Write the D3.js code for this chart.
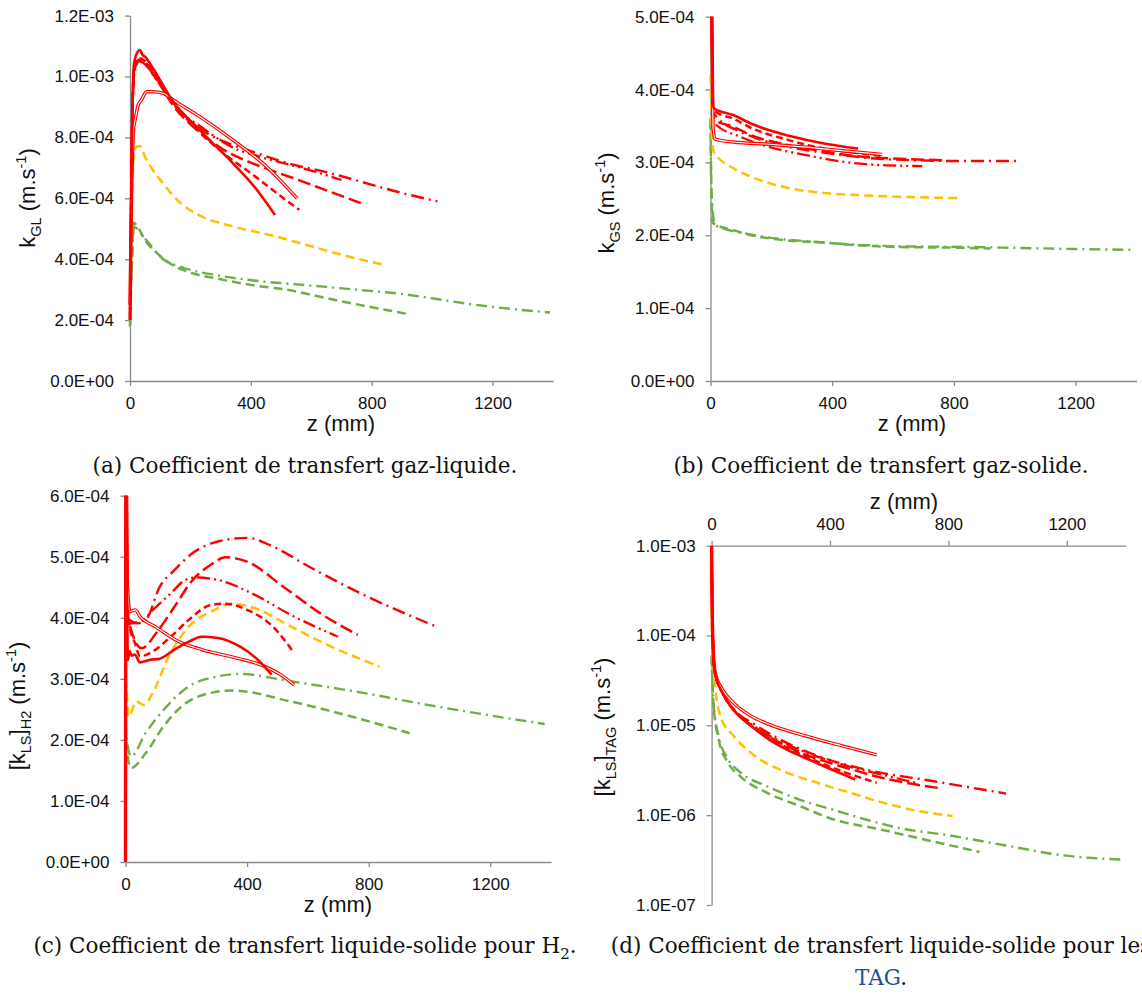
<!DOCTYPE html>
<html><head><meta charset="utf-8">
<script src="https://cdn.jsdelivr.net/npm/d3@7"></script>
<style>
body{margin:0;background:#fff;}
svg{display:block;}
</style></head><body>
<svg id="chart" width="1142" height="994"></svg>
<script>
// ---------- tick values ----------
const zTicks = [0, 400, 800, 1200];
const yTicksA = [0, 2e-4, 4e-4, 6e-4, 8e-4, 1e-3, 1.2e-3];
const yTicksB = [0, 1e-4, 2e-4, 3e-4, 4e-4, 5e-4];
const yTicksC = [0, 1e-4, 2e-4, 3e-4, 4e-4, 5e-4, 6e-4];
const yTicksD = [1e-7, 1e-6, 1e-5, 1e-4, 1e-3];

// ---------- (a) k_GL : [z (mm), value (m/s)] ----------
const a_solid = [[0,2.2e-4],[3,4.8e-4],[7,8.1e-4],[12,1.03e-3],[20,1.07e-3],[33,1.087e-3],[42,1.07e-3],[50,1.065e-3],[66,1.043e-3],[143,9.17e-4],[231,8.24e-4],[341,7.15e-4],[410,6.4e-4],[480,5.45e-4]];
const a_double = [[0,2.5e-4],[5,6e-4],[12,8.3e-4],[17,8.57e-4],[27,9.06e-4],[38,9.23e-4],[55,9.5e-4],[76,9.5e-4],[110,9.45e-4],[143,9.23e-4],[231,8.68e-4],[341,7.91e-4],[452,7.04e-4],[553,6.0e-4]];
const a_shortdash = [[0,2e-4],[4,6e-4],[8,9.2e-4],[17,1.045e-3],[32,1.06e-3],[50,1.05e-3],[74,1.02e-3],[146,9.1e-4],[230,8.17e-4],[314,7.45e-4],[410,6.75e-4],[482,6.2e-4],[560,5.62e-4]];
const a_longdash = [[0,2e-4],[4,6e-4],[8,9e-4],[17,1.04e-3],[32,1.055e-3],[50,1.045e-3],[74,1.015e-3],[146,9.0e-4],[230,8.17e-4],[314,7.57e-4],[410,7.13e-4],[530,6.7e-4],[650,6.26e-4],[764,5.84e-4]];
const a_dashdotdot = [[0,2e-4],[4,6e-4],[8,9e-4],[17,1.03e-3],[32,1.05e-3],[50,1.04e-3],[74,1.01e-3],[146,9.05e-4],[242,8.3e-4],[338,7.68e-4],[434,7.35e-4],[530,7.1e-4],[620,6.85e-4],[700,6.6e-4]];
const a_dashdot = [[0,2e-4],[4,6e-4],[8,9e-4],[17,1.03e-3],[32,1.05e-3],[50,1.045e-3],[74,1.01e-3],[146,9.1e-4],[230,8.3e-4],[314,7.85e-4],[410,7.52e-4],[530,7.13e-4],[650,6.86e-4],[770,6.53e-4],[890,6.2e-4],[1017,5.9e-4]];
const a_yellow = [[0,3.0e-4],[5,5.5e-4],[12,7.3e-4],[20,7.68e-4],[32,7.72e-4],[50,7.35e-4],[110,6.48e-4],[170,5.82e-4],[230,5.44e-4],[350,5.05e-4],[470,4.78e-4],[590,4.45e-4],[710,4.12e-4],[835,3.83e-4]];
const a_greendash = [[0,1.8e-4],[5,3.5e-4],[12,5.2e-4],[26,5.05e-4],[50,4.62e-4],[86,4.23e-4],[134,3.85e-4],[194,3.58e-4],[290,3.36e-4],[410,3.14e-4],[530,2.98e-4],[650,2.72e-4],[770,2.48e-4],[920,2.2e-4]];
const a_greendashdot = [[0,1.8e-4],[5,3.5e-4],[14,5.05e-4],[50,4.67e-4],[110,4.0e-4],[170,3.74e-4],[290,3.47e-4],[410,3.3e-4],[530,3.19e-4],[650,3.09e-4],[770,2.98e-4],[890,2.87e-4],[1010,2.7e-4],[1130,2.52e-4],[1250,2.38e-4],[1390,2.25e-4]];

// ---------- (b) k_GS ----------
const b_solid = [[0,5.5e-4],[4,5.2e-4],[8,3.8e-4],[12,3.74e-4],[75,3.65e-4],[135,3.53e-4],[194,3.44e-4],[254,3.37e-4],[373,3.26e-4],[485,3.19e-4]];
const b_double = [[0,5.5e-4],[4,5.2e-4],[8,3.5e-4],[15,3.32e-4],[75,3.28e-4],[194,3.25e-4],[314,3.21e-4],[433,3.16e-4],[564,3.11e-4]];
const b_shortdash = [[0,5.5e-4],[4,5e-4],[8,3.75e-4],[15,3.7e-4],[75,3.6e-4],[135,3.47e-4],[254,3.31e-4],[373,3.19e-4],[480,3.13e-4],[564,3.09e-4]];
const b_longdash = [[0,5.5e-4],[4,5e-4],[8,3.65e-4],[15,3.58e-4],[75,3.49e-4],[135,3.37e-4],[254,3.24e-4],[373,3.15e-4],[493,3.08e-4],[620,3.05e-4],[770,3.03e-4]];
const b_dashdotdot = [[0,5.5e-4],[4,5e-4],[8,3.6e-4],[15,3.53e-4],[99,3.35e-4],[194,3.21e-4],[314,3.1e-4],[433,3.01e-4],[576,2.96e-4],[696,2.95e-4]];
const b_dashdot = [[0,5.5e-4],[4,5e-4],[8,3.7e-4],[15,3.65e-4],[111,3.4e-4],[206,3.26e-4],[314,3.17e-4],[433,3.1e-4],[552,3.05e-4],[672,3.03e-4],[791,3.02e-4],[1012,3.02e-4]];
const b_yellow = [[0,4.2e-4],[4,3.4e-4],[10,3.15e-4],[75,2.92e-4],[135,2.8e-4],[254,2.65e-4],[373,2.58e-4],[493,2.55e-4],[612,2.53e-4],[815,2.51e-4]];
const b_greendash = [[0,3.6e-4],[3,2.6e-4],[7,2.17e-4],[75,2.07e-4],[135,2.0e-4],[254,1.93e-4],[373,1.9e-4],[493,1.86e-4],[612,1.84e-4],[800,1.83e-4],[920,1.82e-4]];
const b_greendashdot = [[0,3.6e-4],[3,2.6e-4],[15,2.14e-4],[135,2.01e-4],[373,1.9e-4],[612,1.85e-4],[850,1.84e-4],[1089,1.82e-4],[1380,1.8e-4]];

// ---------- (c) [k_LS]_H2 ----------
const c_solid = [[0,0],[2,7e-4],[5,4.5e-4],[8,3.31e-4],[14,3.45e-4],[20,3.38e-4],[30,3.4e-4],[48,3.27e-4],[78,3.31e-4],[113,3.33e-4],[161,3.48e-4],[209,3.61e-4],[251,3.69e-4],[304,3.67e-4],[376,3.53e-4],[436,3.31e-4],[481,3.07e-4]];
const c_double = [[0,0],[2,7e-4],[6,4.6e-4],[15,4.1e-4],[32,4.13e-4],[48,4.02e-4],[100,3.85e-4],[172,3.62e-4],[250,3.48e-4],[350,3.36e-4],[460,3.2e-4],[510,3.07e-4],[555,2.9e-4]];
const c_shortdash = [[0,0],[2,6.5e-4],[6,4.2e-4],[12,3.9e-4],[30,3.6e-4],[48,3.37e-4],[90,3.45e-4],[149,3.69e-4],[209,3.97e-4],[281,4.21e-4],[328,4.23e-4],[400,4.13e-4],[484,3.86e-4],[555,3.42e-4]];
const c_longdash = [[0,0],[2,6.5e-4],[6,4.2e-4],[15,3.86e-4],[54,3.5e-4],[101,3.75e-4],[161,4.18e-4],[221,4.62e-4],[281,4.87e-4],[328,4.99e-4],[400,4.92e-4],[519,4.51e-4],[639,4.08e-4],[764,3.72e-4]];
const c_dashdotdot = [[0,0],[2,6.5e-4],[6,4.2e-4],[12,3.97e-4],[42,3.91e-4],[90,4.13e-4],[149,4.4e-4],[197,4.62e-4],[233,4.66e-4],[304,4.62e-4],[424,4.38e-4],[543,4.05e-4],[699,3.69e-4]];
const c_dashdot = [[0,0],[2,6.5e-4],[6,4.2e-4],[12,3.91e-4],[66,3.97e-4],[113,4.51e-4],[161,4.78e-4],[221,5.06e-4],[304,5.25e-4],[400,5.31e-4],[484,5.17e-4],[603,4.84e-4],[782,4.38e-4],[1021,3.86e-4]];
const c_yellow = [[0,3.0e-4],[4,2.8e-4],[10,2.38e-4],[36,2.63e-4],[60,2.57e-4],[90,2.77e-4],[137,3.31e-4],[209,3.86e-4],[281,4.1e-4],[352,4.23e-4],[424,4.16e-4],[543,3.86e-4],[663,3.56e-4],[836,3.2e-4]];
const c_greendash = [[0,2.2e-4],[8,1.7e-4],[18,1.54e-4],[66,1.78e-4],[125,2.22e-4],[185,2.55e-4],[257,2.74e-4],[352,2.81e-4],[543,2.63e-4],[782,2.33e-4],[935,2.11e-4]];
const c_greendashdot = [[0,2.3e-4],[6,1.95e-4],[18,1.73e-4],[66,2.11e-4],[125,2.49e-4],[209,2.88e-4],[304,3.04e-4],[376,3.08e-4],[543,2.96e-4],[782,2.77e-4],[1021,2.55e-4],[1379,2.26e-4]];

// ---------- (d) [k_LS]_TAG (log) ----------
const d_solid = [[0,1e-3],[2,2e-4],[6,6.4e-5],[12,3.8e-5],[37,2.29e-5],[74,1.48e-5],[135,9.8e-6],[196,6.9e-6],[258,5.3e-6],[319,4.3e-6],[380,3.5e-6],[485,2.5e-6]];
const d_double = [[0,1e-3],[2,2e-4],[6,6.4e-5],[12,3.9e-5],[37,2.5e-5],[74,1.78e-5],[135,1.26e-5],[196,1.02e-5],[319,7.6e-6],[442,5.9e-6],[558,4.7e-6]];
const d_shortdash = [[0,1e-3],[2,2e-4],[6,6.4e-5],[12,3.8e-5],[37,2.3e-5],[74,1.5e-5],[150,9.0e-6],[300,4.8e-6],[450,3.0e-6],[558,2.3e-6]];
const d_longdash = [[0,1e-3],[2,2e-4],[6,6.4e-5],[12,3.8e-5],[37,2.3e-5],[74,1.5e-5],[150,9.3e-6],[300,5.0e-6],[450,3.4e-6],[600,2.5e-6],[770,2.0e-6]];
const d_dashdotdot = [[0,1e-3],[2,2e-4],[6,6.4e-5],[12,3.8e-5],[37,2.3e-5],[74,1.5e-5],[150,9.5e-6],[300,5.3e-6],[450,3.6e-6],[600,2.7e-6],[700,2.25e-6]];
const d_dashdot = [[0,1e-3],[2,2e-4],[6,6.4e-5],[12,3.8e-5],[37,2.3e-5],[74,1.52e-5],[150,1.0e-5],[356,4.6e-6],[524,3.2e-6],[746,2.4e-6],[995,1.74e-6]];
const d_yellow = [[0,2e-4],[2,8e-5],[7,4.2e-5],[30,1.26e-5],[75,7.6e-6],[141,4.7e-6],[242,3.1e-6],[356,2.3e-6],[467,1.78e-6],[578,1.38e-6],[692,1.12e-6],[814,9.8e-7]];
const d_greendash = [[0,6e-5],[3,3e-5],[7,1.6e-5],[24,6.9e-6],[54,3.9e-6],[97,2.7e-6],[188,1.77e-6],[299,1.26e-6],[410,9.0e-7],[564,7.0e-7],[748,5.1e-7],[905,3.9e-7]];
const d_greendashdot = [[0,6e-5],[3,3e-5],[7,1.7e-5],[24,7.5e-6],[54,4.3e-6],[97,3.0e-6],[188,2.1e-6],[299,1.48e-6],[410,1.15e-6],[524,8.9e-7],[635,7.2e-7],[810,5.9e-7],[994,4.6e-7],[1178,3.6e-7],[1393,3.2e-7]];

// ---------- styles ----------
const RED = "#ff0000", YEL = "#ffc000", GRN = "#70ad47";
const styles = {
  greendashdot: {color:GRN, width:2.4, dash:"11,5,2,5"},
  greendash:    {color:GRN, width:2.5, dash:"9,5"},
  yellow:       {color:YEL, width:2.5, dash:"9,5"},
  dashdot:      {color:RED, width:2.4, dash:"13,5,2,5"},
  dashdotdot:   {color:RED, width:2.3, dash:"13,4,2,4,2,4"},
  longdash:     {color:RED, width:2.5, dash:"13,5"},
  shortdash:    {color:RED, width:2.5, dash:"7,4"},
  double:       {color:RED, width:3.4, dash:null, double:true},
  solid:        {color:RED, width:2.6, dash:null}
};
const order = ["greendashdot","greendash","yellow","dashdot","dashdotdot","longdash","shortdash","double","solid"];

const panels = [
  {id:"a", left:130, right:553, top:15.6, bottom:381, log:false, yDomain:[0,1.2e-3], yTicks:yTicksA, xTop:false,
   series:{solid:a_solid,double:a_double,shortdash:a_shortdash,longdash:a_longdash,dashdotdot:a_dashdotdot,dashdot:a_dashdot,yellow:a_yellow,greendash:a_greendash,greendashdot:a_greendashdot},
   ylab:[["k","n"],["GL","sub"],[" (m.s","n"],["-1","sup"],[")","n"]], ylx:35, lyc:198, zx:341, zy:423},
  {id:"b", left:710.5, right:1136.5, top:16.7, bottom:381, log:false, yDomain:[0,5e-4], yTicks:yTicksB, xTop:false,
   series:{solid:b_solid,double:b_double,shortdash:b_shortdash,longdash:b_longdash,dashdotdot:b_dashdotdot,dashdot:b_dashdot,yellow:b_yellow,greendash:b_greendash,greendashdot:b_greendashdot},
   ylab:[["k","n"],["GS","sub"],[" (m.s","n"],["-1","sup"],[")","n"]], ylx:614, lyc:203, zx:912, zy:423},
  {id:"c", left:125.5, right:551, top:495.7, bottom:862, log:false, yDomain:[0,6e-4], yTicks:yTicksC, xTop:false,
   series:{solid:c_solid,double:c_double,shortdash:c_shortdash,longdash:c_longdash,dashdotdot:c_dashdotdot,dashdot:c_dashdot,yellow:c_yellow,greendash:c_greendash,greendashdot:c_greendashdot},
   ylab:[["[k","n"],["LS","sub"],["]","n"],["H2","sub"],[" (m.s","n"],["-1","sup"],[")","n"]], ylx:25, lyc:706, zx:338, zy:904},
  {id:"d", left:711.6, right:1126, top:545.7, bottom:905, log:true, yDomain:[1e-7,1e-3], yTicks:yTicksD, xTop:true,
   series:{solid:d_solid,double:d_double,shortdash:d_shortdash,longdash:d_longdash,dashdotdot:d_dashdotdot,dashdot:d_dashdot,yellow:d_yellow,greendash:d_greendash,greendashdot:d_greendashdot},
   ylab:[["[k","n"],["LS","sub"],["]","n"],["TAG","sub"],[" (m.s","n"],["-1","sup"],[")","n"]], ylx:610, lyc:727, zx:904, zy:501}
];

function fmtE(v){
  if (v === 0) return "0.0E+00";
  const e = Math.floor(Math.log10(v) + 1e-9);
  const m = v / Math.pow(10, e);
  const ae = Math.abs(e);
  return m.toFixed(1) + "E" + (e < 0 ? "-" : "+") + (ae < 10 ? "0" : "") + ae;
}

function rich(sel, parts, fs){
  let shift = 0;
  parts.forEach(([t,k]) => {
    const target = k === "sub" ? fs*0.28 : (k === "sup" ? -fs*0.42 : 0);
    sel.append("tspan").text(t).attr("dy", target - shift).attr("font-size", k === "n" ? fs : fs*0.66);
    shift = target;
  });
}

const svg = d3.select("#chart");
const SANS = "'Liberation Sans', Arial, sans-serif";
const AXC = "#8a8a8a";

panels.forEach(p => {
  const x = d3.scaleLinear().domain([0,1400]).range([p.left, p.right]);
  const y = (p.log ? d3.scaleLog() : d3.scaleLinear()).domain(p.yDomain).range([p.bottom, p.top]);
  const g = svg.append("g");

  const clipId = "clip-" + p.id;
  svg.append("clipPath").attr("id", clipId).append("rect")
    .attr("x", p.left - 3).attr("y", p.top).attr("width", p.right - p.left + 6).attr("height", p.bottom - p.top + 2);

  // axes
  const yAxis = d3.axisLeft(y).tickValues(p.yTicks).tickFormat(fmtE).tickSize(5).tickSizeOuter(0).tickPadding(11);
  const xAxis = (p.xTop ? d3.axisTop(x) : d3.axisBottom(x)).tickValues(zTicks).tickFormat(d3.format("d")).tickSize(5).tickSizeOuter(0).tickPadding(11);
  const gy = g.append("g").attr("transform", `translate(${p.left},0)`).call(yAxis);
  const gx = g.append("g").attr("transform", `translate(0,${p.xTop ? p.top : p.bottom})`).call(xAxis);
  [gx, gy].forEach(ax => {
    ax.select(".domain").attr("stroke", AXC).attr("stroke-width", 1.3);
    ax.selectAll(".tick line").attr("stroke", AXC).attr("stroke-width", 1.3);
    ax.selectAll(".tick text").attr("font-family", SANS).attr("font-size", 17).attr("fill", "#111");
  });

  // lines
  const line = d3.line().x(d => x(d[0])).y(d => y(d[1])).curve(d3.curveMonotoneX);
  const lg = g.append("g").attr("clip-path", `url(#${clipId})`);
  order.forEach(k => {
    const st = styles[k];
    const data = p.series[k];
    lg.append("path").attr("d", line(data)).attr("fill", "none")
      .attr("stroke", st.color).attr("stroke-width", st.width)
      .attr("stroke-dasharray", st.dash).attr("stroke-linejoin", "round");
    if (st.double) {
      lg.append("path").attr("d", line(data)).attr("fill", "none")
        .attr("stroke", "#fff").attr("stroke-width", 1.1).attr("stroke-linejoin", "round");
    }
  });

  // axis titles
  g.append("text").attr("x", p.zx).attr("y", p.zy).attr("text-anchor", "middle").attr("dominant-baseline", "central")
    .attr("font-family", SANS).attr("font-size", 22).attr("fill", "#111").text("z (mm)");
  const yl = g.append("text").attr("transform", `translate(${p.ylx},${p.lyc}) rotate(-90)`)
    .attr("text-anchor", "middle").attr("font-family", SANS).attr("fill", "#111");
  yl.append("tspan").attr("dy", 8);
  rich(yl, p.ylab, 22);
});

// captions
const SERIF = "'DejaVu Serif', serif";
const CAPFS = 21.5;
function caption(xc, yb, parts){
  const t = svg.append("text").attr("x", xc).attr("y", yb).attr("text-anchor", "middle")
    .attr("font-family", SERIF).attr("font-size", CAPFS).attr("fill", "#111");
  let shift = 0;
  parts.forEach(([s,k,col]) => {
    const target = k === "sub" ? CAPFS*0.3 : 0;
    const ts = t.append("tspan").text(s).attr("dy", target - shift).attr("font-size", k === "sub" ? CAPFS*0.7 : CAPFS);
    if (col) ts.attr("fill", col);
    shift = target;
  });
}
caption(305, 473, [["(a) Coefficient de transfert gaz-liquide.","n"]]);
caption(881, 473, [["(b) Coefficient de transfert gaz-solide.","n"]]);
caption(305, 953, [["(c) Coefficient de transfert liquide-solide pour H","n"],["2","sub"],[".","n"]]);
caption(881, 953, [["(d) Coefficient de transfert liquide-solide pour les","n"]]);
caption(881, 985, [["TAG","n","#1f4f93"],[".","n"]]);
</script>
</body></html>
